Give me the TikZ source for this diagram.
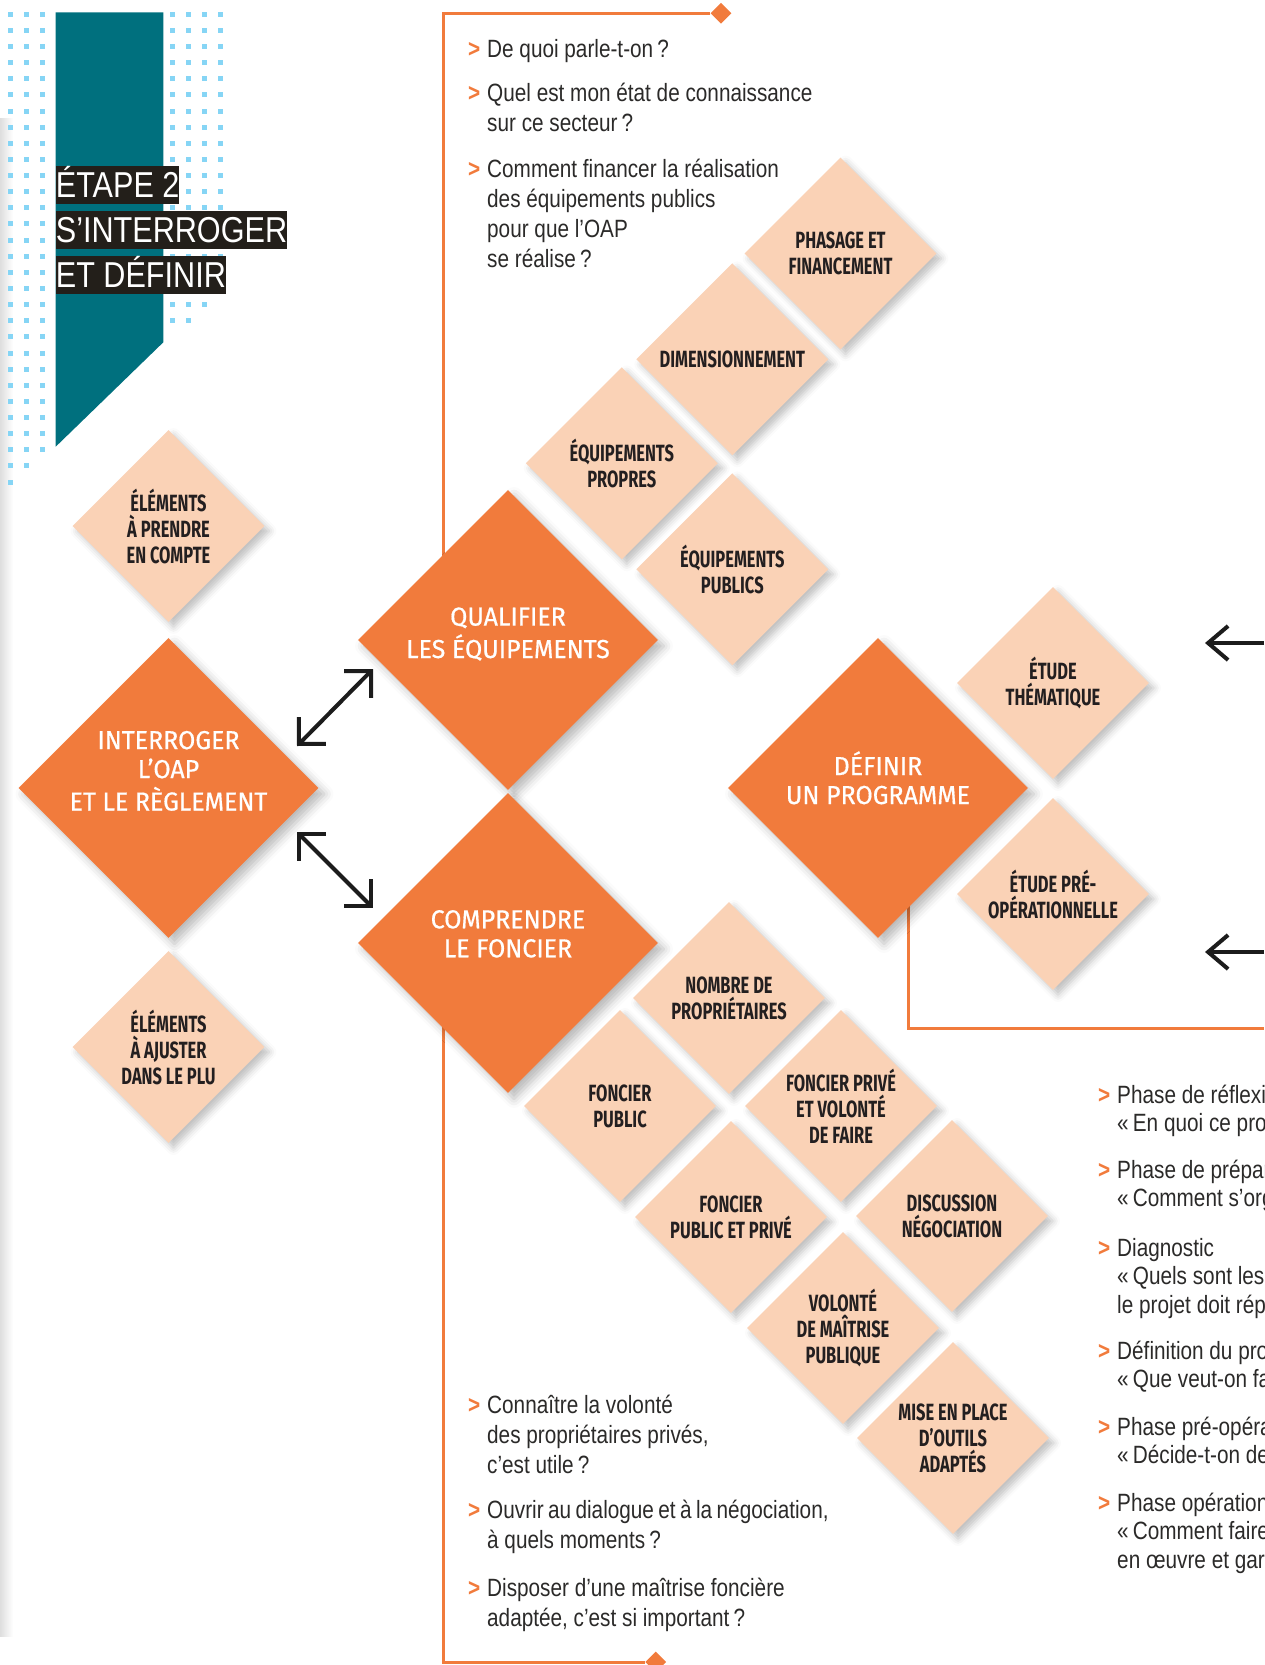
\documentclass[tikz,border=0pt]{standalone}
\usepackage{fontspec}
\setmainfont{Liberation Sans}
\newfontfamily\txtfont[FakeStretch=0.83]{Liberation Sans}
\newfontfamily\ttlfont[FakeStretch=0.85]{Liberation Sans}
\newfontfamily\lblfont[FakeStretch=0.7]{Fira Sans}
\newfontfamily\bigfont[FakeStretch=0.96, FakeBold=0.6]{Fira Sans}
\usetikzlibrary{shapes.geometric, arrows.meta, shadows.blur, backgrounds}

\definecolor{oaporange}{HTML}{F17B3C}
\definecolor{oappeach}{HTML}{FAD2B6}
\definecolor{oapteal}{HTML}{00707E}
\definecolor{oapdot}{HTML}{86D5F5}
\definecolor{oapink}{HTML}{2B2A29}
\definecolor{oaplabel}{HTML}{231F20}
\definecolor{oaptitle}{HTML}{231F1A}
\definecolor{oapblack}{HTML}{1C1C1C}

\newcommand\puce{{\bfseries\color{oaporange}>}\hspace{7pt}}
\newcommand\qtext[1]{\parbox[t]{12cm}{\leavevmode\llap{\puce}#1}}
\newcommand\raised[2][8pt]{\raisebox{#1}[\height][\depth]{\begin{tabular}{@{}c@{}}#2\end{tabular}}}

\begin{document}
\begin{tikzpicture}[x=1pt, y=-1pt]

\tikzset{etape/.style = {shape=diamond, minimum size=300pt, inner sep=0pt, fill=oaporange, text=white, font=\bigfont\fontsize{26}{29}\selectfont, blur shadow={shadow xshift=6pt, shadow yshift=-6pt, shadow blur radius=9pt, shadow opacity=28}}}
\tikzset{detail/.style = {shape=diamond, minimum size=192pt, inner sep=-14pt, fill=oappeach, text=oaplabel, align=center, font=\lblfont\bfseries\fontsize{23.5}{26}\selectfont, blur shadow={shadow xshift=5pt, shadow yshift=-5pt, shadow blur radius=7pt, shadow opacity=25}}}
\tikzset{question/.style = {anchor=base west, inner sep=0pt, text=oapink, font=\txtfont\fontsize{25}{30}\selectfont}}
\tikzset{titlebox/.style = {anchor=base west, inner sep=0pt, fill=oaptitle, text=white, text height=31pt, text depth=6.5pt, font=\ttlfont\fontsize{36}{40}\selectfont}}
\tikzset{linediamond/.style = {shape=diamond, minimum size=21pt, inner sep=0pt, fill=oaporange}}
\tikzset{orangeline/.style = {draw=oaporange, line width=3pt}}
\tikzset{biarrow/.style = {{Straight Barb[length=19pt,width=38pt]}-{Straight Barb[length=19pt,width=38pt]}, line width=4pt, draw=oapblack}}
\tikzset{backarrow/.style = {-{Straight Barb[length=20pt,width=34pt]}, line width=4pt, draw=oapblack}}

\useasboundingbox (0,0) rectangle (1264,1665);

%page edge
\shade[left color=black!13, right color=white] (0,118) rectangle (13,1636);

%dots and band
\foreach \k in {0,1,2}
  \foreach \n in {0,...,29}
    {\pgfmathtruncatemacro{\s}{\n+\k}
     \ifnum\s<30 \fill[oapdot] (7.5+16.2*\k,11.8+16.13*\n) rectangle ++(5,5); \fi}
\foreach \k in {0,...,3}
  \foreach \n in {0,...,19}
    {\pgfmathtruncatemacro{\s}{\n+\k}
     \ifnum\s<21 \fill[oapdot] (169.5+16.3*\k,11.8+16.13*\n) rectangle ++(5,5); \fi}
\fill[oapteal] (55.7,12.3) -- (163.3,12.3) -- (163.3,342.3) -- (55.7,446.7) -- cycle;

%title
\node[titlebox] (etape2) at (55.7,197) {ÉTAPE 2};
\node[titlebox] (sinterroger) at (55.7,242.3) {S’INTERROGER\hspace{9pt}};
\node[titlebox] (etdefinir) at (55.7,287.3) {ET DÉFINIR};

%main steps
\node[etape] (interroger) at (168.5,788) {\raised[14pt]{INTERROGER\\L’OAP\\ET LE RÈGLEMENT}};
\node[etape] (qualifier) at (508,640) {\raised[4pt]{QUALIFIER\\LES ÉQUIPEMENTS}};
\node[etape] (comprendre) at (508,943) {\raised[6pt]{COMPRENDRE\\LE FONCIER}};
\node[etape] (definir) at (878,788) {\raised[6pt]{DÉFINIR\\UN PROGRAMME}};

%details
\node[detail] (aprendre) at (168.5,526) {ÉLÉMENTS\\À PRENDRE\\EN COMPTE};
\node[detail] (aajuster) at (168.5,1047) {ÉLÉMENTS\\À AJUSTER\\DANS LE PLU};
\node[detail] (phasage) at (840.5,253.5) {PHASAGE ET\\FINANCEMENT};
\node[detail] (dimension) at (732.3,359.3) {DIMENSIONNEMENT};
\node[detail] (propres) at (621.8,463.3) {ÉQUIPEMENTS\\PROPRES};
\node[detail] (publics) at (732.3,569.3) {ÉQUIPEMENTS\\PUBLICS};
\node[detail] (thematique) at (1053,683) {ÉTUDE\\THÉMATIQUE};
\node[detail] (preop) at (1053,894) {ÉTUDE PRÉ-\\OPÉRATIONNELLE};
\node[detail] (nombre) at (729,998) {NOMBRE DE\\PROPRIÉTAIRES};
\node[detail] (fpublic) at (620,1106) {FONCIER\\PUBLIC};
\node[detail] (fprive) at (841,1106) {FONCIER PRIVÉ\\ET VOLONTÉ\\DE FAIRE};
\node[detail] (fmixte) at (731,1217) {FONCIER\\PUBLIC ET PRIVÉ};
\node[detail] (discussion) at (952,1216) {DISCUSSION\\NÉGOCIATION};
\node[detail] (volonte) at (843,1328) {VOLONTÉ\\DE MAÎTRISE\\PUBLIQUE};
\node[detail] (outils) at (953,1438) {MISE EN PLACE\\D’OUTILS\\ADAPTÉS};

%frames
\node[linediamond] (topmark) at (721,13.3) {};
\node[linediamond] (botmark) at (655.7,1662) {};
\coordinate (topcorner) at (443,13.3);
\coordinate (botcorner) at (443,1662);
\coordinate (defcorner) at (908,1028);
\coordinate (defend) at (1264,1028);
\begin{pgfonlayer}{background}
\draw[orangeline] (topmark) -- (topcorner) -- (topcorner |- qualifier);
\draw[orangeline] (botcorner |- comprendre) -- (botcorner) -- (botmark);
\draw[orangeline] (defcorner |- definir) -- (defcorner) -- (defend);
\end{pgfonlayer}

%arrows
\draw[biarrow] ([shift={(128.5,-42)}]interroger.center) -- ([shift={(-135,29)}]qualifier.center);
\draw[biarrow] ([shift={(128.5,44)}]interroger.center) -- ([shift={(-135,-35)}]comprendre.center);
\coordinate (fromright1) at (1264,643);
\coordinate (toleft1) at (1205,643);
\coordinate (fromright2) at (1264,952);
\coordinate (toleft2) at (1205,952);
\draw[backarrow] (fromright1) -- (toleft1);
\draw[backarrow] (fromright2) -- (toleft2);

%questions
\node[question] (q1) at (487,57) {\qtext{De quoi parle-t-on\,?}};
\node[question] (q2) at (487,101) {\qtext{Quel est mon état de connaissance\\sur ce secteur\,?}};
\node[question] (q3) at (487,177) {\qtext{Comment financer la réalisation\\des équipements publics\\pour que l’OAP\\se réalise\,?}};
\node[question] (q4) at (487,1413) {\qtext{Connaître la volonté\\des propriétaires privés,\\c’est utile\,?}};
\node[question] (q5) at (487,1518) {\qtext{Ouvrir au dialogue et à la négociation,\\à quels moments\,?}};
\node[question] (q6) at (487,1596) {\qtext{Disposer d’une maîtrise foncière\\adaptée, c’est si important\,?}};

%phases
\tikzset{phase/.style = {question, font=\txtfont\fontsize{25}{28.7}\selectfont}}
\node[phase] (p1) at (1117,1103) {\qtext{Phase de réflexi\\«\,En quoi ce proj}};
\node[phase] (p2) at (1117,1178) {\qtext{Phase de prépar\\«\,Comment s’org}};
\node[phase] (p3) at (1117,1256) {\qtext{Diagnostic\\«\,Quels sont les\\le projet doit rép}};
\node[phase] (p4) at (1117,1359) {\qtext{Définition du pro\\«\,Que veut-on fa}};
\node[phase] (p5) at (1117,1435) {\qtext{Phase pré-opéra\\«\,Décide-t-on de}};
\node[phase] (p6) at (1117,1511) {\qtext{Phase opération\\«\,Comment faire\\en œuvre et gar}};

\end{tikzpicture}
\end{document}
